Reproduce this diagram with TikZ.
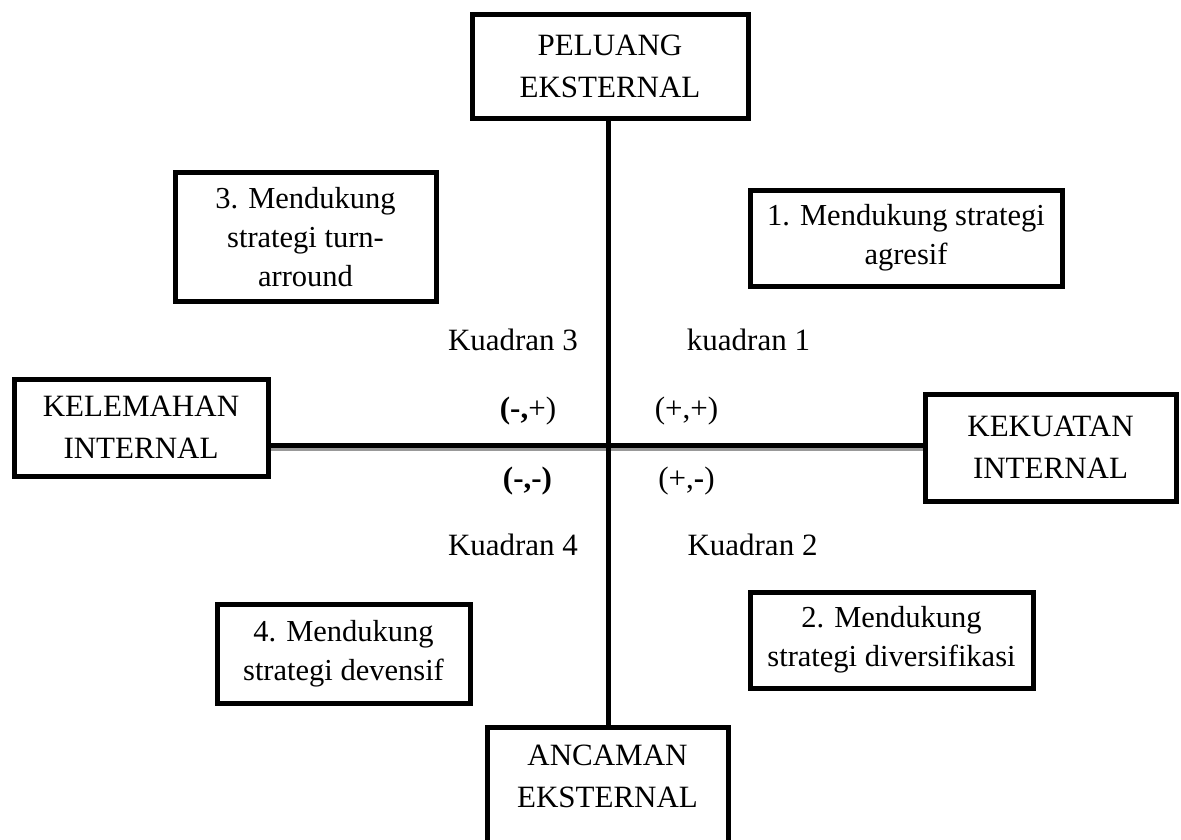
\documentclass[tikz,border=0pt]{standalone}
\usepackage{fontspec}
\setmainfont{Liberation Serif}
\begin{document}
\begin{tikzpicture}[x=1pt,y=-1pt,
  bigbox/.style={draw=black, line width=5pt, fill=white, inner sep=0pt, align=center, font=\fontsize{31}{42}\selectfont},
  smallbox/.style={draw=black, line width=5pt, fill=white, inner sep=0pt, align=center, font=\fontsize{30.5}{39}\selectfont},
  lbl/.style={anchor=base, inner sep=0pt, font=\fontsize{31}{39}\selectfont},
  axis/.style={line width=5pt, black},
  axisshadow/.style={line width=4pt, black!40}]
\useasboundingbox (0,0) rectangle (1181,839);
\clip (0,0) rectangle (1181,839);
% boxes
\node[bigbox, minimum width=276pt, minimum height=104pt] (pel) at (610,66) {PELUANG\\EKSTERNAL};
\node[bigbox, minimum width=254pt, minimum height=97pt] (kel) at (141,427.5) {KELEMAHAN\\INTERNAL};
\node[bigbox, minimum width=251pt, minimum height=107pt] (kek) at (1050.5,447.5) {KEKUATAN\\INTERNAL};
\node[bigbox, minimum width=241pt, minimum height=150pt, anchor=north] (anc) at (607.5,725) {};
\node[smallbox, minimum width=261pt, minimum height=129pt] (b3) at (305.5,237) {3. Mendukung\\strategi turn-\\arround};
\node[smallbox, minimum width=312pt, minimum height=96pt] (b1) at (906,238) {1. Mendukung strategi\\agresif};
\node[smallbox, minimum width=253pt, minimum height=99pt] (b4) at (343.5,653.5) {4. Mendukung\\strategi devensif};
\node[smallbox, minimum width=283pt, minimum height=96pt] (b2) at (891.5,640) {2. Mendukung\\strategi diversifikasi};
% axes
\coordinate (c) at (608,445);
\draw[axisshadow] ([yshift=-4pt]kel.east |- c) -- ([yshift=-4pt]kek.west |- c);
\draw[axis] (kel.east |- c) -- (kek.west |- c);
\draw[axis] (pel.south -| c) -- (anc.north -| c);
% text of the bottom box
\node[anchor=base, inner sep=0pt, align=center, font=\fontsize{31}{42}\selectfont] (anctext) at (607.5,807) {ANCAMAN\\EKSTERNAL};
% labels
\node[lbl] (k3) at (513,350) {Kuadran 3};
\node[lbl] (k1) at (748.5,350) {kuadran 1};
\node[lbl] (k4) at (513,555) {Kuadran 4};
\node[lbl] (k2) at (752.5,555) {Kuadran 2};
\node[lbl] (mp) at (528,418) {\textbf{(-,}+)};
\node[lbl] (pp) at (686.5,418) {(+,+)};
\node[lbl] (mm) at (527.5,488) {\textbf{(-,-)}};
\node[lbl] (pm) at (686.5,488) {(+,\textbf{-})};
\end{tikzpicture}
\end{document}
